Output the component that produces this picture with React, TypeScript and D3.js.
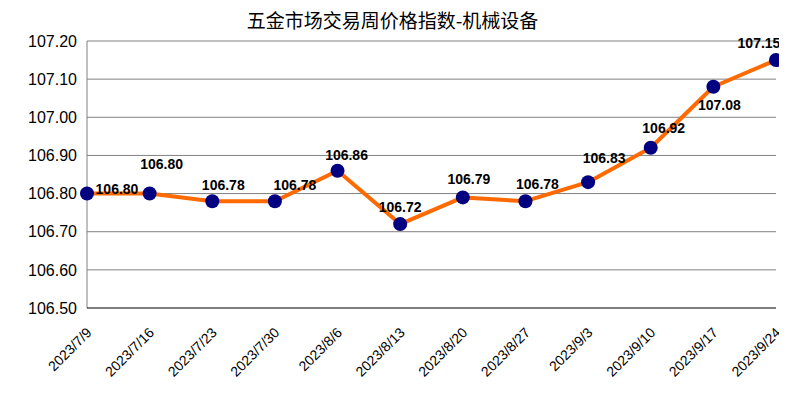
import * as d3 from 'd3';
import { useEffect, useRef } from 'react';

const title = '五金市场交易周价格指数-机械设备';
const dates = [
    '2023/7/9', '2023/7/16', '2023/7/23', '2023/7/30', '2023/8/6', '2023/8/13',
    '2023/8/20', '2023/8/27', '2023/9/3', '2023/9/10', '2023/9/17', '2023/9/24',
];
const values = [106.8, 106.8, 106.78, 106.78, 106.86, 106.72, 106.79, 106.78, 106.83, 106.92, 107.08, 107.15];
const yTicks = [106.5, 106.6, 106.7, 106.8, 106.9, 107.0, 107.1, 107.2];

// label placement relative to the point (pixels)
const labelOffsets: [number, number][] = [
    [30, -5], [12, -30], [11, -16], [20, -16], [9, -16], [0, -17],
    [6, -18], [12, -17], [16, -24], [13, -20], [6, 18], [-17, -17],
];

const W = 787;
const H = 393;
const margin = { top: 41, right: 11, bottom: 85, left: 87 };

function LineChart() {
    const svgRef = useRef<SVGSVGElement>(null);

    useEffect(() => {
        if (!svgRef.current) return;
        const root = d3.select(svgRef.current);
        root.selectAll('*').remove();

        const innerW = W - margin.left - margin.right;
        const innerH = H - margin.top - margin.bottom;

        const x = d3.scalePoint<string>().domain(dates).range([0, innerW]);
        const y = d3.scaleLinear().domain([106.5, 107.2]).range([innerH, 0]);

        root.append('text')
            .attr('x', W / 2 - 1)
            .attr('y', 28)
            .attr('text-anchor', 'middle')
            .attr('font-family', '"Noto Sans CJK SC", sans-serif')
            .attr('font-size', 19)
            .attr('fill', '#000')
            .text(title);

        const g = root.append('g').attr('transform', `translate(${margin.left},${margin.top})`);

        // gridlines
        g.append('g')
            .selectAll('line')
            .data(yTicks.filter((t) => t !== 106.5))
            .join('line')
            .attr('x1', 0)
            .attr('x2', innerW)
            .attr('y1', (d) => y(d))
            .attr('y2', (d) => y(d))
            .attr('stroke', '#808080')
            .attr('stroke-width', 1);

        // left axis line
        g.append('line')
            .attr('x1', 0).attr('x2', 0)
            .attr('y1', 0).attr('y2', innerH)
            .attr('stroke', '#808080');

        // bottom axis line
        g.append('line')
            .attr('x1', 0).attr('x2', innerW)
            .attr('y1', innerH).attr('y2', innerH)
            .attr('stroke', '#000');

        // y tick labels
        g.append('g')
            .selectAll('text')
            .data(yTicks)
            .join('text')
            .attr('x', -10)
            .attr('y', (d) => y(d))
            .attr('dy', '0.36em')
            .attr('text-anchor', 'end')
            .attr('font-family', '"Liberation Sans", Arial, sans-serif')
            .attr('font-size', 16)
            .attr('fill', '#000')
            .text((d) => d.toFixed(2));

        // x tick labels
        g.append('g')
            .selectAll('text')
            .data(dates)
            .join('text')
            .attr('transform', (d) => `translate(${(x(d) ?? 0) + 2},${innerH + 22}) rotate(-45)`)
            .attr('dy', '0.35em')
            .attr('text-anchor', 'end')
            .attr('font-family', '"Liberation Sans", Arial, sans-serif')
            .attr('font-size', 14)
            .attr('fill', '#000')
            .text((d) => d);

        const line = d3.line<number>()
            .x((_, i) => x(dates[i]) ?? 0)
            .y((d) => y(d));

        g.append('path')
            .datum(values)
            .attr('d', line)
            .attr('fill', 'none')
            .attr('stroke', '#FF6A00')
            .attr('stroke-width', 4)
            .attr('stroke-linejoin', 'round');

        g.append('g')
            .selectAll('circle')
            .data(values)
            .join('circle')
            .attr('cx', (_, i) => x(dates[i]) ?? 0)
            .attr('cy', (d) => y(d))
            .attr('r', 7)
            .attr('fill', '#000080');

        g.append('g')
            .selectAll('text')
            .data(values)
            .join('text')
            .attr('x', (_, i) => (x(dates[i]) ?? 0) + labelOffsets[i][0])
            .attr('y', (d, i) => y(d) + labelOffsets[i][1])
            .attr('dy', '0.36em')
            .attr('text-anchor', 'middle')
            .attr('font-family', '"Liberation Sans", Arial, sans-serif')
            .attr('font-weight', 'bold')
            .attr('font-size', 14)
            .attr('fill', '#000')
            .text((d) => d.toFixed(2));
    }, []);

    return <svg ref={svgRef} width={W} height={H} style={{ display: 'block' }} />;
}

export default function App() {
    return (
        <div style={{ margin: -8 }}>
            <LineChart />
        </div>
    );
}
